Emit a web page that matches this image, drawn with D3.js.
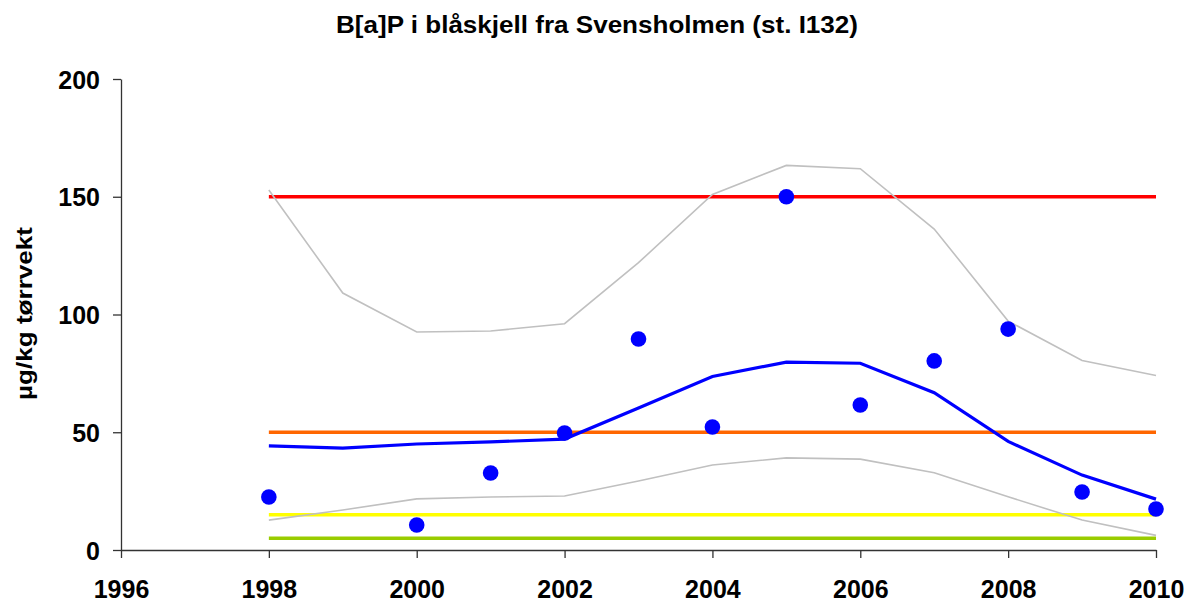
<!DOCTYPE html>
<html>
<head>
<meta charset="utf-8">
<script src="https://cdn.jsdelivr.net/npm/d3@7"></script>
<style>
  body { margin: 0; background: #fff; }
  text { font-family: "Liberation Sans", Arial, sans-serif; font-weight: bold; }
</style>
</head>
<body>
<div class="canvas"></div>
<script>
// data
const years = [1998, 1999, 2000, 2001, 2002, 2003, 2004, 2005, 2006, 2007, 2008, 2009, 2010];
const trend = [44.2, 43.3, 45.0, 45.9, 47.1, 60.3, 73.7, 79.8, 79.3, 66.8, 46.1, 31.8, 21.6];
const upper = [152.9, 109.1, 92.6, 93.0, 96.1, 122.0, 151.0, 163.3, 161.9, 136.3, 97.2, 80.5, 74.1];
const lower = [12.7, 17.0, 21.7, 22.5, 22.9, 29.3, 36.1, 39.1, 38.6, 32.8, 22.6, 12.7, 6.2];
const obsYears = [1998, 2000, 2001, 2002, 2003, 2004, 2005, 2006, 2007, 2008, 2009, 2010];
const obsValues = [22.5, 10.6, 32.7, 49.7, 89.6, 52.2, 150, 61.6, 80.3, 93.8, 24.6, 17.4];
const classLimits = [150, 50, 15, 5];
const classColors = ['#ff0000', '#ff6600', '#ffff00', '#99cc00'];
const xTicks = [1996, 1998, 2000, 2002, 2004, 2006, 2008, 2010];
const yTicks = [0, 50, 100, 150, 200];

const width = 1186, height = 601;
const margin = { top: 79, right: 30, bottom: 51, left: 121 };
const graphWidth = width - margin.left - margin.right;
const graphHeight = height - margin.top - margin.bottom;

const svg = d3.select('.canvas')
  .append('svg')
  .attr('width', width)
  .attr('height', height);

const graph = svg.append('g')
  .attr('transform', `translate(${margin.left},${margin.top})`);

const x = d3.scaleLinear().domain([1996, 2010]).range([0, graphWidth]);
const y = d3.scaleLinear().domain([0, 200]).range([graphHeight, 0]);

// axes
const xAxis = d3.axisBottom(x).tickValues(xTicks).tickFormat(d3.format('d')).tickSize(8).tickSizeOuter(0);
const yAxis = d3.axisLeft(y).tickValues(yTicks).tickSize(8).tickSizeOuter(0);

const xAxisGroup = graph.append('g')
  .attr('transform', `translate(0,${graphHeight})`)
  .call(xAxis);
const yAxisGroup = graph.append('g').call(yAxis);

[xAxisGroup, yAxisGroup].forEach(g => {
  g.selectAll('path, line').attr('stroke', '#333').attr('stroke-width', 1.3);
  g.selectAll('text').attr('fill', '#000').style('font-size', '25px');
});
xAxisGroup.selectAll('text').attr('y', 48).attr('dy', null);
yAxisGroup.selectAll('text').attr('x', -21).attr('dy', '0.36em');

// class limit lines
classLimits.forEach((v, i) => {
  graph.append('line')
    .attr('x1', x(years[0])).attr('x2', x(years[years.length - 1]))
    .attr('y1', y(v)).attr('y2', y(v))
    .attr('stroke', classColors[i])
    .attr('stroke-width', 3.5);
});

const line = d3.line()
  .x((d, i) => x(years[i]))
  .y(d => y(d));

graph.append('path').datum(upper)
  .attr('d', line).attr('fill', 'none')
  .attr('stroke', '#c0c0c0').attr('stroke-width', 1.6);
graph.append('path').datum(lower)
  .attr('d', line).attr('fill', 'none')
  .attr('stroke', '#c0c0c0').attr('stroke-width', 1.6);
graph.append('path').datum(trend)
  .attr('d', line).attr('fill', 'none')
  .attr('stroke', '#0000ff').attr('stroke-width', 3.2);

graph.selectAll('circle')
  .data(obsValues)
  .enter()
  .append('circle')
  .attr('cx', (d, i) => x(obsYears[i]))
  .attr('cy', d => y(d))
  .attr('r', 7.8)
  .attr('fill', '#0000ff');

// title and y label
svg.append('text')
  .attr('x', 336).attr('y', 33)
  .attr('textLength', 522)
  .attr('lengthAdjust', 'spacingAndGlyphs')
  .style('font-size', '24px')
  .text('B[a]P i blåskjell fra Svensholmen (st. I132)');

svg.append('text')
  .attr('transform', `translate(32,400) rotate(-90)`)
  .attr('textLength', 173)
  .attr('lengthAdjust', 'spacingAndGlyphs')
  .style('font-size', '22px')
  .text('µg/kg tørrvekt');
</script>
</body>
</html>
